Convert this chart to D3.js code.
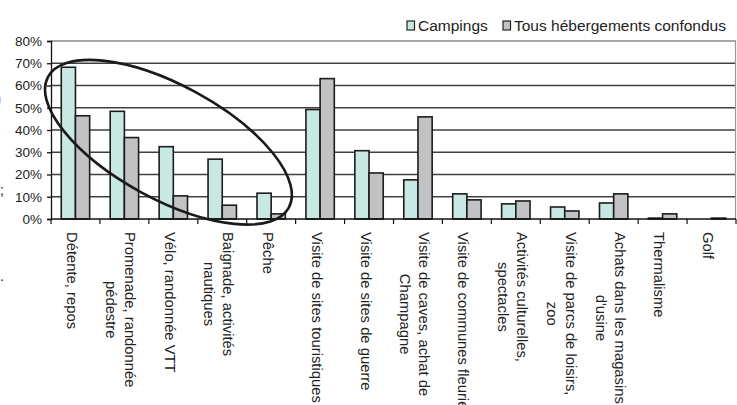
<!DOCTYPE html>
<html>
<head>
<meta charset="utf-8">
<script src="https://cdn.jsdelivr.net/npm/d3@7"></script>
<style>
    body { margin: 0; background: #fff; }
    svg { display: block; font-family: "Liberation Sans", Arial, sans-serif; }
</style>
</head>
<body>
<script>

// categories (line breaks as in the original labels)
var categories = [
    "Détente, repos",
    "Promenade, randonnée\npédestre",
    "Vélo, randonnée VTT",
    "Baignade, activités\nnautiques",
    "Pêche",
    "Visite de sites touristiques",
    "Visite de sites de guerre",
    "Visite de caves, achat de\nChampagne",
    "Visite de communes fleuries",
    "Activités culturelles,\nspectacles",
    "Visite de parcs de loisirs,\nzoo",
    "Achats dans les magasins\nd'usine",
    "Thermalisme",
    "Golf"
];
var seriesNames = ["Campings", "Tous hébergements confondus"];
var campings = [68.2, 48.4, 32.5, 26.9, 11.6, 49.2, 30.7, 17.6, 11.3, 6.8, 5.4, 7.2, 0.4, 0];
var tousHebergements = [46.4, 36.6, 10.4, 6.2, 2.3, 63.1, 20.7, 45.9, 8.6, 8.1, 3.6, 11.3, 2.3, 0.4];
var yTicks = [0, 10, 20, 30, 40, 50, 60, 70, 80];

var colors = ["#c8e8e4", "#c2c2c5"];

var W = 737, H = 405,
    margin = {top: 41, right: 1, bottom: 186, left: 51},
    width = W - margin.left - margin.right,
    height = H - margin.top - margin.bottom;

var svg = d3.select("body").append("svg")
    .attr("width", W)
    .attr("height", H);

var g = svg.append("g")
    .attr("transform", "translate(" + margin.left + "," + margin.top + ")");

var x = d3.scaleBand().domain(categories).range([0, width]).padding(0);
var x1 = d3.scaleBand().domain(seriesNames)
    .range([x.bandwidth() * 0.21, x.bandwidth() * 0.79]);
var y = d3.scaleLinear().domain([0, 80]).range([height, 0]);

// gridlines
g.selectAll(".grid")
    .data(yTicks.slice(1))
    .enter().append("line")
    .attr("class", "grid")
    .attr("x1", 0)
    .attr("x2", width)
    .attr("y1", function(d) { return y(d); })
    .attr("y2", function(d) { return y(d); })
    .attr("stroke", function(d) { return d === 80 ? "#8a8a8a" : "#404040"; })
    .attr("stroke-width", 1.3);

// right border
g.append("line")
    .attr("x1", width - 0.5).attr("x2", width - 0.5)
    .attr("y1", y(80)).attr("y2", y(0))
    .attr("stroke", "#9a9a9a")
    .attr("stroke-width", 1.2);

// bars
var rows = categories.map(function(c, i) {
    return [
        {cat: c, s: seriesNames[0], v: campings[i], k: 0},
        {cat: c, s: seriesNames[1], v: tousHebergements[i], k: 1}
    ];
});
var flat = [].concat.apply([], rows).filter(function(d) { return d.v > 0; });

g.selectAll(".bar")
    .data(flat)
    .enter().append("rect")
    .attr("class", "bar")
    .attr("x", function(d) { return x(d.cat) + x1(d.s); })
    .attr("y", function(d) { return y(d.v); })
    .attr("width", x1.bandwidth())
    .attr("height", function(d) { return y(0) - y(d.v); })
    .attr("fill", function(d) { return colors[d.k]; })
    .attr("stroke", "#1c1c1c")
    .attr("stroke-width", 1.6);

// y axis
var yAxis = d3.axisLeft(y)
    .tickValues(yTicks)
    .tickSize(4)
    .tickPadding(5)
    .tickFormat(function(d) { return d + "%"; });

var ya = g.append("g").call(yAxis);
ya.select(".domain").attr("stroke", "#111").attr("stroke-width", 1.3);
ya.selectAll(".tick line").attr("stroke", "#111").attr("stroke-width", 1.3).attr("x2", -4).attr("x1", 1);
ya.selectAll(".tick text")
    .attr("fill", "#222")
    .style("font-size", "13.5px")
    .style("font-family", "'Liberation Sans', Arial, sans-serif");

// x axis: ticks on band boundaries
g.append("line")
    .attr("x1", 0).attr("x2", width)
    .attr("y1", y(0)).attr("y2", y(0))
    .attr("stroke", "#111").attr("stroke-width", 1.3);

var bounds = categories.map(function(c) { return x(c); }).concat([width]);
g.selectAll(".xtick")
    .data(bounds)
    .enter().append("line")
    .attr("class", "xtick")
    .attr("x1", function(d) { return d; })
    .attr("x2", function(d) { return d; })
    .attr("y1", y(0))
    .attr("y2", y(0) + 5)
    .attr("stroke", "#111").attr("stroke-width", 1.2);

// rotated category labels
var lineH = 19, labelTop = y(0) + 13;
categories.forEach(function(c) {
    var lines = c.split("\n"),
        n = lines.length,
        cx = x(c) + x.bandwidth() / 2;
    var lab = g.append("g")
        .attr("transform", "translate(" + cx + "," + labelTop + ") rotate(90)");
    var texts = lab.selectAll("text")
        .data(lines)
        .enter().append("text")
        .attr("fill", "#222")
        .style("font-size", "14.8px")
        .attr("x", 0)
        .attr("y", function(d, i) { return 8.5 - (n - 1) * lineH / 2 + i * lineH; })
        .text(function(d) { return d; });
    var maxW = 0;
    texts.each(function() { maxW = Math.max(maxW, this.getComputedTextLength()); });
    texts.attr("x", maxW / 2).attr("text-anchor", "middle");
});

// annotation ellipse around the nature activities
var ecx = x(categories[2]) + x.bandwidth() * 0.4,
    ecy = y(34.5);
svg.append("ellipse")
    .attr("transform", "translate(" + (margin.left + ecx) + "," + (margin.top + ecy) + ") rotate(28.5)")
    .attr("rx", 137)
    .attr("ry", 57)
    .attr("fill", "none")
    .attr("stroke", "#1a1a1a")
    .attr("stroke-width", 2.6);

// legend
var legend = svg.append("g").attr("transform", "translate(407,0)");
var legX = [0, 96];
seriesNames.forEach(function(s, i) {
    legend.append("rect")
        .attr("x", legX[i]).attr("y", 21)
        .attr("width", 7.5).attr("height", 9)
        .attr("fill", colors[i])
        .attr("stroke", "#222").attr("stroke-width", 1.2);
    legend.append("text")
        .attr("x", legX[i] + 11)
        .attr("y", 30.5)
        .attr("fill", "#222")
        .style("font-size", "15.5px")
        .text(s);
});

// fragments of surrounding page text cut at the left edge
svg.append("text").attr("x", -3).attr("y", 104).attr("fill", "#bbb").style("font-size", "14px").text(")");
svg.append("text").attr("x", 0).attr("y", 195).attr("fill", "#222").style("font-size", "14px").text(";");
svg.append("text").attr("x", 0).attr("y", 281).attr("fill", "#222").style("font-size", "14px").text(".");

</script>
</body>
</html>
